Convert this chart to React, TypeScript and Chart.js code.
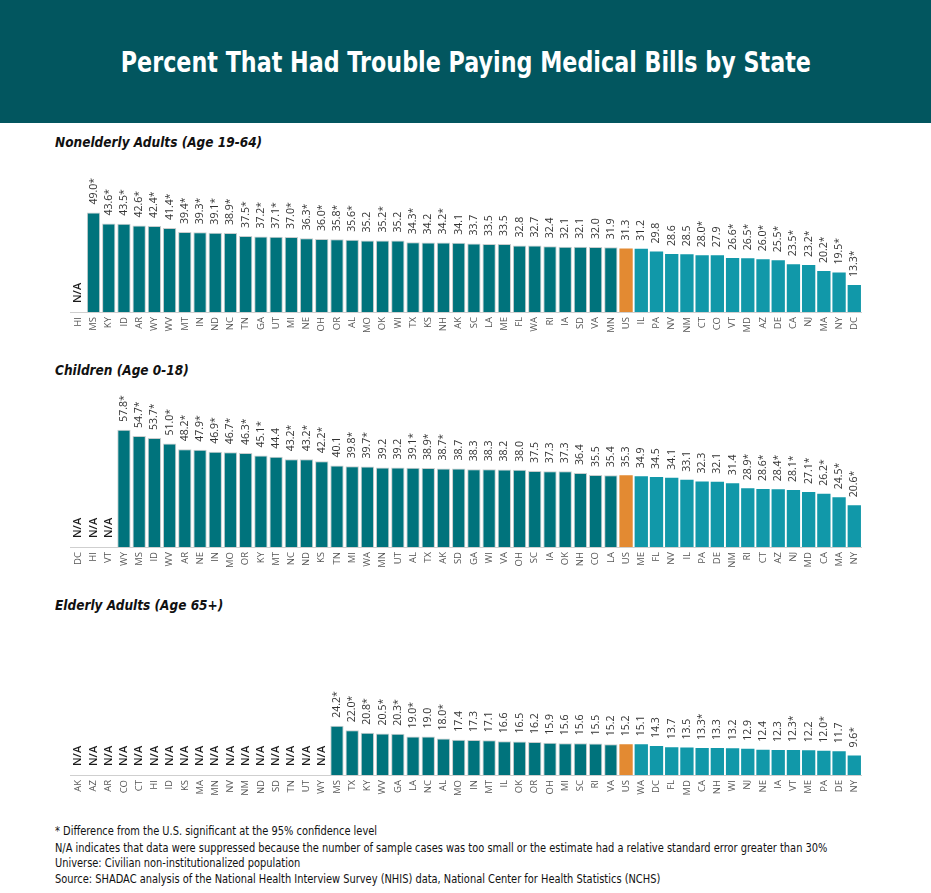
import React, { useEffect, useRef } from "react";
import { Chart, registerables } from "chart.js";

Chart.register(...registerables);

const adultStates = ["HI","MS","KY","ID","AR","WY","WV","MT","IN","ND","NC","TN","GA","UT","MI","NE","OH","OR","AL","MO","OK","WI","TX","KS","NH","AK","SC","LA","ME","FL","WA","RI","IA","SD","VA","MN","US","IL","PA","NV","NM","CT","CO","VT","MD","AZ","DE","CA","NJ","MA","NY","DC"];
const adultValues = [null,49.0,43.6,43.5,42.6,42.4,41.4,39.4,39.3,39.1,38.9,37.5,37.2,37.1,37.0,36.3,36.0,35.8,35.6,35.2,35.2,35.2,34.3,34.2,34.2,34.1,33.7,33.5,33.5,32.8,32.7,32.4,32.1,32.1,32.0,31.9,31.3,31.2,29.8,28.6,28.5,28.0,27.9,26.6,26.5,26.0,25.5,23.5,23.2,20.2,19.5,13.3];
const adultSig = [0,1,1,1,1,1,1,1,1,1,1,1,1,1,1,1,1,1,1,0,1,0,1,0,1,0,0,0,0,0,0,0,0,0,0,0,0,0,0,0,0,1,0,1,1,1,1,1,1,1,1,1];

const childStates = ["DC","HI","VT","WY","MS","ID","WV","AR","NE","IN","MO","OR","KY","MT","NC","ND","KS","TN","MI","WA","MN","UT","AL","TX","AK","SD","GA","WI","VA","OH","SC","IA","OK","NH","CO","LA","US","ME","FL","NV","IL","PA","DE","NM","RI","CT","AZ","NJ","MD","CA","MA","NY"];
const childValues = [null,null,null,57.8,54.7,53.7,51.0,48.2,47.9,46.9,46.7,46.3,45.1,44.4,43.2,43.2,42.2,40.1,39.8,39.7,39.2,39.2,39.1,38.9,38.7,38.7,38.3,38.3,38.2,38.0,37.5,37.3,37.3,36.4,35.5,35.4,35.3,34.9,34.5,34.1,33.1,32.3,32.1,31.4,28.9,28.6,28.4,28.1,27.1,26.2,24.5,20.6];
const childSig = [0,0,0,1,1,1,1,1,1,1,1,1,1,0,1,1,1,0,1,1,0,0,1,1,1,0,0,0,0,0,0,0,0,0,0,0,0,0,0,0,0,0,0,0,1,1,1,1,1,1,1,1];

const elderStates = ["AK","AZ","AR","CO","CT","HI","ID","KS","MA","MN","NV","NM","ND","SD","TN","UT","WY","MS","TX","KY","WV","GA","LA","NC","AL","MO","IN","MT","IL","OK","OR","OH","MI","SC","RI","VA","US","WA","DC","FL","MD","CA","NH","WI","NJ","NE","IA","VT","ME","PA","DE","NY"];
const elderValues = [null,null,null,null,null,null,null,null,null,null,null,null,null,null,null,null,null,24.2,22.0,20.8,20.5,20.3,19.0,19.0,18.0,17.4,17.3,17.1,16.6,16.5,16.2,15.9,15.6,15.6,15.5,15.2,15.2,15.1,14.3,13.7,13.5,13.3,13.3,13.2,12.9,12.4,12.3,12.3,12.2,12.0,11.7,9.6];
const elderSig = [0,0,0,0,0,0,0,0,0,0,0,0,0,0,0,0,0,1,1,1,1,1,1,0,1,0,0,0,0,0,0,0,0,0,0,0,0,0,0,0,0,1,0,0,0,0,0,1,0,1,0,1];

const DARK = "#00737C";
const LIGHT = "#1198A9";
const ORANGE = "#E38A32";
const HEADER = "#02565F";

const Y_MAX = 75;
const PX_PER_UNIT = 2.03;
const AREA_H = Y_MAX * PX_PER_UNIT;
const ABOVE = 160;
const AXIS_H = 33;

const labelPlugin = {
  id: "valueLabels",
  afterDatasetsDraw(chart: any) {
    const ctx = chart.ctx;
    const xs = chart.scales.x;
    const ys = chart.scales.y;
    const ds = chart.data.datasets[0];
    const sig: number[] = (chart.options.plugins as any).valueLabels.sig;
    const base = ys.getPixelForValue(0);
    ctx.save();
    ds.data.forEach((v: number | null, i: number) => {
      const x = xs.getPixelForValue(i);
      let text: string;
      let y: number;
      if (v === null || v === undefined) {
        text = "N/A";
        y = base - 9;
        ctx.font = "600 11px 'Open Sans', sans-serif";
        ctx.fillStyle = "#1a1a1a";
      } else {
        text = v.toFixed(1) + (sig[i] ? "*" : "");
        y = ys.getPixelForValue(v) - 8;
        ctx.font = "10.5px 'Open Sans', sans-serif";
        ctx.fillStyle = "#333333";
      }
      ctx.save();
      ctx.translate(x, y);
      ctx.rotate(-Math.PI / 2);
      ctx.textAlign = "left";
      ctx.textBaseline = "middle";
      ctx.fillText(text, 0, 0);
      ctx.restore();
    });
    ctx.restore();
  },
};

function Panel(props: { states: string[]; values: (number | null)[]; sig: number[]; baseline: number }) {
  const ref = useRef<HTMLCanvasElement>(null);
  useEffect(() => {
    if (!ref.current) return;
    const usIdx = props.states.indexOf("US");
    const colors = props.states.map((_, i) => (i < usIdx ? DARK : i === usIdx ? ORANGE : LIGHT));
    const borders = props.states.map((_, i) => (i < usIdx ? "#c9cdcd" : "rgba(0,0,0,0)"));
    const widths = props.states.map((_, i) => (i < usIdx ? 1 : 0));
    const chart = new Chart(ref.current, {
      type: "bar",
      data: {
        labels: props.states,
        datasets: [
          {
            data: props.values as any,
            backgroundColor: colors,
            borderColor: borders,
            borderWidth: widths,
            barPercentage: 0.875,
            categoryPercentage: 1,
          },
        ],
      },
      options: {
        animation: false,
        responsive: false,
        maintainAspectRatio: false,
        layout: { padding: { left: 70.7, right: 69.1, top: ABOVE - AREA_H, bottom: 0 } },
        plugins: {
          legend: { display: false },
          tooltip: { enabled: false },
          valueLabels: { sig: props.sig },
        } as any,
        scales: {
          x: {
            grid: { display: false, drawTicks: false },
            border: { display: true, color: "#cfcfcf", width: 1 },
            ticks: {
              minRotation: 90,
              maxRotation: 90,
              autoSkip: false,
              padding: 5,
              color: "#555",
              font: { size: 9.5, family: "'Open Sans', sans-serif" },
            },
            afterFit: (scale: any) => {
              scale.height = AXIS_H;
            },
          } as any,
          y: {
            display: false,
            min: 0,
            max: Y_MAX,
          },
        },
      },
      plugins: [labelPlugin],
    });
    return () => chart.destroy();
  }, []);
  return (
    <canvas
      ref={ref}
      width={931}
      height={ABOVE + AXIS_H}
      style={{ position: "absolute", left: 0, top: props.baseline - ABOVE, width: 931, height: ABOVE + AXIS_H }}
    />
  );
}

const subStyle: React.CSSProperties = {
  position: "absolute",
  left: 55,
  fontFamily: "'DejaVu Sans', sans-serif",
  fontWeight: 700,
  fontStyle: "italic",
  fontSize: 14.5,
  color: "#111",
  whiteSpace: "nowrap",
  lineHeight: "18px",
  transform: "scaleX(0.838)",
  transformOrigin: "left center",
};

const noteStyle: React.CSSProperties = {
  position: "absolute",
  left: 55,
  fontFamily: "'DejaVu Sans', sans-serif",
  fontSize: 12,
  color: "#111",
  whiteSpace: "nowrap",
  lineHeight: "16px",
  transform: "scaleX(0.821)",
  transformOrigin: "left center",
};

export default function App() {
  return (
    <div style={{ position: "fixed", left: 0, top: 0, width: 931, height: 893, background: "#fff", overflow: "hidden" }}>
      <div
        style={{
          position: "absolute",
          left: 0,
          top: 0,
          width: 931,
          height: 123,
          background: HEADER,
          color: "#fff",
          display: "flex",
          alignItems: "center",
          justifyContent: "center",
        }}
      >
        <span
          style={{
            display: "inline-block",
            fontFamily: "'DejaVu Sans', sans-serif",
            fontWeight: 700,
            fontSize: 29,
            whiteSpace: "nowrap",
            transform: "scaleX(0.767)",
            transformOrigin: "center center",
          }}
        >
          Percent That Had Trouble Paying Medical Bills by State
        </span>
      </div>
      <div style={{ ...subStyle, top: 133 }}>Nonelderly Adults (Age 19-64)</div>
      <div style={{ ...subStyle, top: 361 }}>Children (Age 0-18)</div>
      <div style={{ ...subStyle, top: 596 }}>Elderly Adults (Age 65+)</div>
      <Panel states={adultStates} values={adultValues} sig={adultSig} baseline={312} />
      <Panel states={childStates} values={childValues} sig={childSig} baseline={547} />
      <Panel states={elderStates} values={elderValues} sig={elderSig} baseline={775} />
      <div style={{ ...noteStyle, top: 823 }}>* Difference from the U.S. significant at the 95% confidence level</div>
      <div style={{ ...noteStyle, top: 840 }}>
        N/A indicates that data were suppressed because the number of sample cases was too small or the estimate had a relative standard error greater than 30%
      </div>
      <div style={{ ...noteStyle, top: 855 }}>Universe: Civilian non-institutionalized population</div>
      <div style={{ ...noteStyle, top: 871 }}>
        Source: SHADAC analysis of the National Health Interview Survey (NHIS) data, National Center for Health Statistics (NCHS)
      </div>
    </div>
  );
}
